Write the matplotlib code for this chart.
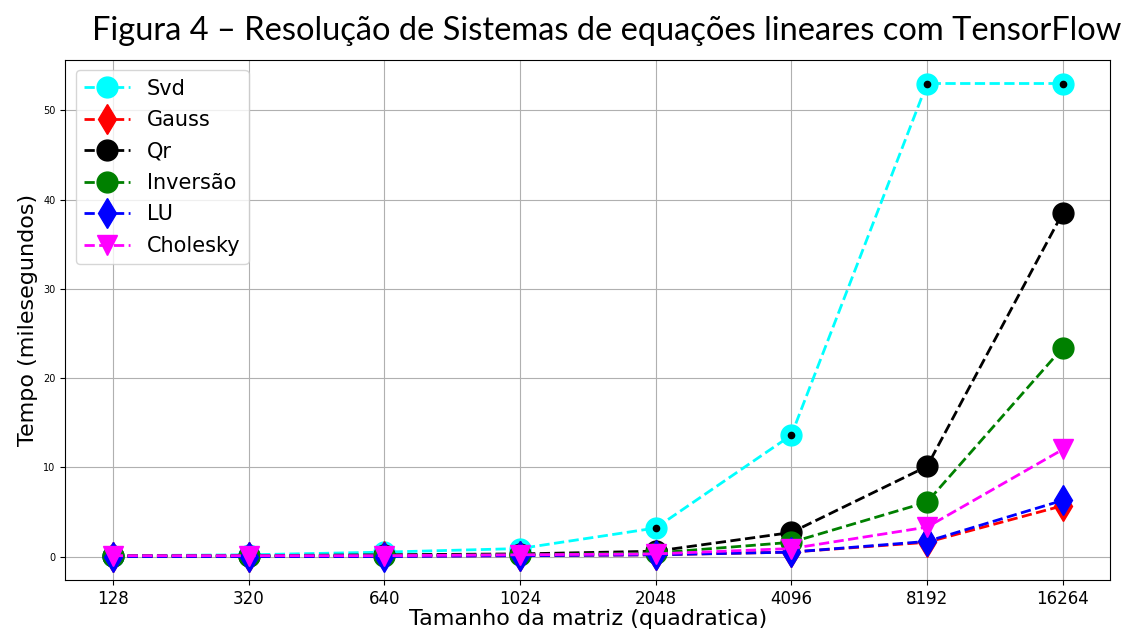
import matplotlib.pyplot as plt

tamanhos = ["128", "320", "640", "1024", "2048", "4096", "8192", "16264"]
svd = [0.1, 0.2, 0.5, 0.9, 3.2, 13.6, 53.0, 53.0]
gauss = [0.0, 0.0, 0.05, 0.1, 0.2, 0.5, 1.6, 5.7]
qr = [0.1, 0.1, 0.2, 0.3, 0.6, 2.7, 10.1, 38.5]
inversao = [0.05, 0.05, 0.1, 0.2, 0.4, 1.6, 6.1, 23.4]
lu = [0.0, 0.0, 0.0, 0.1, 0.2, 0.5, 1.7, 6.3]
cholesky = [0.1, 0.1, 0.1, 0.2, 0.3, 0.9, 3.3, 12.0]

fig = plt.figure(figsize=(11.26, 6.3), dpi=100)
ax = fig.add_axes([0.058, 0.079, 0.928, 0.826])

x = range(len(tamanhos))
kw = dict(markersize=15, linewidth=2)
ax.plot(x, svd, "--o", color="cyan", label="Svd", **kw)
# small black dots drawn over the svd points
ax.plot(x, svd, ".", color="black", markersize=9)
ax.plot(x, gauss, "--d", color="red", label="Gauss", **kw)
ax.plot(x, qr, "--o", color="black", label="Qr", **kw)
ax.plot(x, inversao, "--o", color="green", label="Inversão", **kw)
ax.plot(x, lu, "--d", color="blue", label="LU", **kw)
ax.plot(x, cholesky, "--v", color="magenta", label="Cholesky", **kw)

ax.set_xticks(list(x))
ax.set_xticklabels(tamanhos, fontsize=12)
ax.tick_params(axis="y", labelsize=7)
ax.grid(True, color="#b0b0b0")
ax.set_xlabel("Tamanho da matriz (quadratica)", fontsize=16, labelpad=1)
ax.set_ylabel("Tempo (milesegundos)", fontsize=16)
ax.legend(loc="upper left", fontsize=15, handlelength=2.2, labelspacing=0.55)

fig.text(0.996, 0.975, "Figura 4 – Resolução de Sistemas de equações lineares com TensorFlow",
         ha="right", va="top", fontsize=23.5, family="Lato", color="black")

plt.savefig("out.png", dpi=100)
